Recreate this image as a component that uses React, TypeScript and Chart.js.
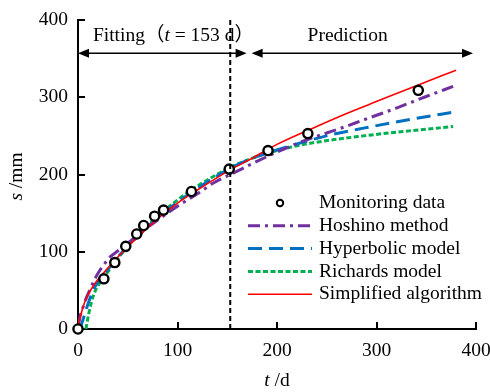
import React, { useEffect, useRef } from "react";
import { Chart, registerables } from "chart.js";

Chart.register(...registerables);

// ---- Data ----
const tMonitoring = [0, 26, 37, 48, 59, 66, 77, 86, 114, 152, 191, 231, 342];
const sMonitoring = [0, 65, 86, 107, 123, 134, 146, 154, 178, 207, 231, 253, 309];

const tHoshino = [0.5, 2, 5, 8, 12, 17, 22, 27, 32, 40, 50, 60, 80, 100, 120, 136, 158, 175, 200, 230, 260, 290, 320, 350, 377];
const sHoshino = [5, 16, 28, 39, 51, 65, 76, 85, 93, 101, 111, 122, 141, 159, 175, 189, 203, 214, 229, 245, 258, 272, 286, 301, 314];

const tHyperbolic = [2, 5, 11, 18, 25, 30, 40, 50, 60, 80, 100, 120, 153, 175, 216, 253, 287, 337, 379];
const sHyperbolic = [0, 12, 36, 57, 69, 77, 93, 107, 120, 144, 164, 182, 208, 221, 238, 251, 260, 272, 281];

const tRichards = [8, 11, 16, 21, 26, 30, 40, 50, 60, 80, 100, 120, 153, 175, 206, 236, 287, 337, 377];
const sRichards = [0, 21, 45, 58, 66, 74, 91, 107, 121, 146, 167, 185, 209, 221, 233, 241, 250, 257, 262];

const tSimplified = [0, 1, 3, 6, 10, 15, 20, 26, 37, 48, 60, 80, 100, 120, 153, 175, 200, 236, 270, 303, 342, 380];
const sSimplified = [0, 8, 19, 32, 44, 55, 64, 73, 89, 104, 119, 143, 163, 180, 206, 221, 239, 260, 279, 296, 316, 335];

const xTicks = [0, 100, 200, 300, 400];
const yTicks = [0, 100, 200, 300, 400];

const fitEnd = 153; // fitting period (d)
const arrowLevel = 357; // s value of the double arrows
const textLevel = 380; // s value of the region labels
const fitArrowEnd = 169.5;
const predArrowStart = 174.5;
const predArrowEnd = 397;
const fitTextStart = 15;
const predTextCenter = 271;

const legendLabels = ["Monitoring data", "Hoshino method", "Hyperbolic model", "Richards model", "Simplified algorithm"];

const FONT = "'Liberation Serif', 'Noto Sans CJK SC', serif";
const FS = 19.5;

const COLORS = {
  hoshino: "#7030A0",
  hyper: "#0070C0",
  richards: "#00B050",
  simplified: "#FF0000",
};
const DASH = {
  hoshino: [12, 5, 3, 5],
  hyper: [14, 7],
  richards: [5, 2.5],
  simplified: [] as number[],
};

const zip = (t: number[], s: number[]) => t.map((v, i) => ({ x: v, y: s[i] }));

type Run = { text: string; italic?: boolean };
function drawRuns(ctx: CanvasRenderingContext2D, runs: Run[], x: number, y: number, align: "left" | "center") {
  const fonts = runs.map((r) => `${r.italic ? "italic " : ""}${FS}px ${FONT}`);
  const widths = runs.map((r, i) => {
    ctx.font = fonts[i];
    return ctx.measureText(r.text).width;
  });
  const total = widths.reduce((a, b) => a + b, 0);
  let cx = align === "center" ? x - total / 2 : x;
  ctx.textAlign = "left";
  ctx.textBaseline = "middle";
  runs.forEach((r, i) => {
    ctx.font = fonts[i];
    ctx.fillText(r.text, cx, y);
    cx += widths[i];
  });
}

function arrowHead(ctx: CanvasRenderingContext2D, x: number, y: number, dir: number) {
  ctx.beginPath();
  ctx.moveTo(x, y);
  ctx.lineTo(x - dir * 11, y - 4.5);
  ctx.lineTo(x - dir * 11, y + 4.5);
  ctx.closePath();
  ctx.fill();
}

const overlayPlugin = {
  id: "overlay",
  afterDraw(chart: any) {
    const { ctx, chartArea } = chart;
    const xs = chart.scales.x;
    const ys = chart.scales.y;
    ctx.save();
    ctx.fillStyle = "#000";
    ctx.strokeStyle = "#000";

    // inward tick marks
    ctx.lineWidth = 2;
    ctx.setLineDash([]);
    xTicks.forEach((v) => {
      if (v === 0) return;
      const px = Math.round(xs.getPixelForValue(v));
      ctx.beginPath();
      ctx.moveTo(px, chartArea.bottom);
      ctx.lineTo(px, chartArea.bottom - 7);
      ctx.stroke();
    });
    yTicks.forEach((v) => {
      if (v === 0) return;
      const py = Math.round(ys.getPixelForValue(v));
      ctx.beginPath();
      ctx.moveTo(chartArea.left, py);
      ctx.lineTo(chartArea.left + 7, py);
      ctx.stroke();
    });

    // vertical dashed line at end of fitting
    const xf = xs.getPixelForValue(fitEnd);
    ctx.lineWidth = 2;
    ctx.setLineDash([5, 3]);
    ctx.beginPath();
    ctx.moveTo(xf, chartArea.top);
    ctx.lineTo(xf, chartArea.bottom);
    ctx.stroke();
    ctx.setLineDash([]);

    // double arrows
    const ay = ys.getPixelForValue(arrowLevel);
    ctx.lineWidth = 1.5;
    const seg = (a: number, b: number) => {
      const x1 = xs.getPixelForValue(a);
      const x2 = xs.getPixelForValue(b);
      ctx.beginPath();
      ctx.moveTo(x1 + 5, ay);
      ctx.lineTo(x2 - 5, ay);
      ctx.stroke();
      arrowHead(ctx, x1, ay, -1);
      arrowHead(ctx, x2, ay, 1);
    };
    seg(0, fitArrowEnd);
    seg(predArrowStart, predArrowEnd);

    // region texts
    const ty = ys.getPixelForValue(textLevel);
    drawRuns(ctx, [{ text: "Fitting（" }, { text: "t", italic: true }, { text: " = 153 d）" }], xs.getPixelForValue(fitTextStart), ty, "left");
    drawRuns(ctx, [{ text: "Prediction" }], xs.getPixelForValue(predTextCenter), ty, "center");

    // axis titles
    drawRuns(ctx, [{ text: "t", italic: true }, { text: " /d" }], (chartArea.left + chartArea.right) / 2, chartArea.bottom + 52, "center");
    ctx.save();
    ctx.translate(chartArea.left - 61, (chartArea.top + chartArea.bottom) / 2 + 2);
    ctx.rotate(-Math.PI / 2);
    drawRuns(ctx, [{ text: "s", italic: true }, { text: " /mm" }], 0, 0, "center");
    ctx.restore();

    // legend
    const lx0 = chartArea.left + 170;
    const lx1 = chartArea.left + 234;
    const tx = chartArea.left + 241;
    const rowY = (i: number) => chartArea.top + 183 + i * 22.8;
    const styles = [
      null,
      { c: COLORS.hoshino, d: DASH.hoshino, w: 3 },
      { c: COLORS.hyper, d: DASH.hyper, w: 3 },
      { c: COLORS.richards, d: DASH.richards, w: 3 },
      { c: COLORS.simplified, d: DASH.simplified, w: 1.6 },
    ];
    legendLabels.forEach((lab, i) => {
      const y = rowY(i);
      const st = styles[i];
      if (!st) {
        ctx.beginPath();
        ctx.arc((lx0 + lx1) / 2, y, 3.2, 0, Math.PI * 2);
        ctx.fillStyle = "#fff";
        ctx.fill();
        ctx.lineWidth = 2;
        ctx.strokeStyle = "#000";
        ctx.stroke();
      } else {
        ctx.beginPath();
        ctx.setLineDash(st.d);
        ctx.lineWidth = st.w;
        ctx.strokeStyle = st.c;
        ctx.moveTo(lx0, y);
        ctx.lineTo(lx1, y);
        ctx.stroke();
        ctx.setLineDash([]);
      }
      ctx.fillStyle = "#000";
      drawRuns(ctx, [{ text: lab }], tx, y, "left");
    });

    ctx.restore();
  },
};

export default function App() {
  const ref = useRef<HTMLCanvasElement | null>(null);
  useEffect(() => {
    if (!ref.current) return;
    Chart.defaults.font.family = FONT;
    const curve = (label: string, t: number[], s: number[], color: string, dash: number[], w: number) => ({
      label,
      data: zip(t, s),
      borderColor: color,
      backgroundColor: color,
      borderWidth: w,
      borderDash: dash,
      pointRadius: 0,
      showLine: true,
      fill: false,
      tension: 0.4,
      cubicInterpolationMode: "monotone" as const,
    });
    const zeroPad = (s: any) => {
      s.paddingLeft = 0;
      s.paddingRight = 0;
      s.paddingTop = 0;
      s.paddingBottom = 0;
    };
    const chart = new Chart(ref.current, {
      type: "line",
      data: {
        datasets: [
          {
            label: "Monitoring data",
            data: zip(tMonitoring, sMonitoring),
            showLine: false,
            pointRadius: 4.6,
            pointBorderWidth: 2.4,
            pointBackgroundColor: "#fff",
            pointBorderColor: "#000",
            borderColor: "#000",
            clip: false,
          } as any,
          curve("Simplified algorithm", tSimplified, sSimplified, COLORS.simplified, DASH.simplified, 1.6),
          curve("Hoshino method", tHoshino, sHoshino, COLORS.hoshino, DASH.hoshino, 3),
          curve("Hyperbolic model", tHyperbolic, sHyperbolic, COLORS.hyper, DASH.hyper, 3),
          curve("Richards model", tRichards, sRichards, COLORS.richards, DASH.richards, 3),
        ],
      },
      options: {
        animation: false,
        responsive: false,
        layout: { padding: { top: 20, right: 14, left: 0, bottom: 0 } },
        plugins: { legend: { display: false }, tooltip: { enabled: false } },
        scales: {
          x: {
            type: "linear",
            min: 0,
            max: 400,
            afterBuildTicks: (s: any) => {
              s.ticks = xTicks.map((v) => ({ value: v }));
            },
            afterFit: (s: any) => {
              s.height = 63;
              zeroPad(s);
            },
            grid: { display: false, drawTicks: false },
            border: { display: true, color: "#000", width: 2 },
            ticks: { color: "#000", font: { size: FS, family: FONT }, padding: 10, maxRotation: 0 },
          },
          y: {
            type: "linear",
            min: 0,
            max: 400,
            afterBuildTicks: (s: any) => {
              s.ticks = yTicks.map((v) => ({ value: v }));
            },
            afterFit: (s: any) => {
              s.width = 78;
              zeroPad(s);
            },
            grid: { display: false, drawTicks: false },
            border: { display: true, color: "#000", width: 2 },
            ticks: { color: "#000", font: { size: FS, family: FONT }, padding: 10 },
          },
        },
      },
      plugins: [overlayPlugin],
    } as any);
    return () => chart.destroy();
  }, []);
  return (
    <div style={{ position: "absolute", left: 0, top: 0, width: 490, height: 392, background: "#fff" }}>
      <canvas ref={ref} width={490} height={392} style={{ display: "block" }} />
    </div>
  );
}
